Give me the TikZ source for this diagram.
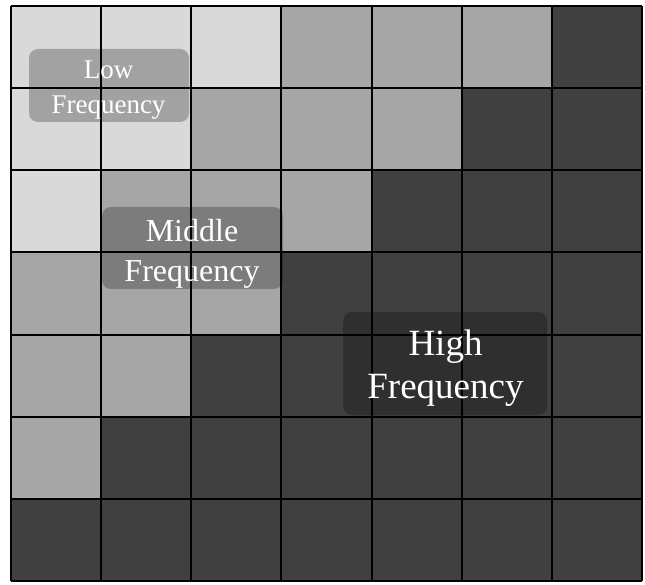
\documentclass[tikz,border=0pt]{standalone}
\usepackage{fontspec}
\setmainfont{Liberation Serif}
\definecolor{cLight}{HTML}{D9D9D9}
\definecolor{cMid}{HTML}{A6A6A6}
\definecolor{cDark}{HTML}{404040}
\begin{document}
\begin{tikzpicture}[x=1pt,y=-1pt,
  gridline/.style={draw=black,line width=2pt},
  lblbox/.style={fill=black,fill opacity=0.25,rounded corners=9pt,inner sep=0pt},
  lbltext/.style={text=white,align=center,inner sep=0pt}]
\useasboundingbox (0,0) rectangle (645,585);
\fill[white] (0,0) rectangle (645,585);
\foreach \i in {0,...,6}{
  \foreach \j in {0,...,6}{
    \pgfmathtruncatemacro\s{\i+\j}
    \ifnum\s<3 \def\cc{cLight}\else\ifnum\s<6 \def\cc{cMid}\else\def\cc{cDark}\fi\fi
    \fill[\cc] ({11+\j*90.14},{6.5+\i*82}) rectangle ++(90.14,82);
  }
}
\foreach \k in {0,...,7}{
  \draw[gridline] ({11+\k*90.14},6.5) -- ({11+\k*90.14},580.5);
  \draw[gridline] (11,{6.5+\k*82}) -- (641.98,{6.5+\k*82});
}
\node[lblbox,minimum width=160pt,minimum height=73pt] (lowbox) at (109,85.5) {};
\node[lbltext,font=\fontsize{27}{35}\selectfont] (low) at (108.5,90.5) {Low\\Frequency};
\node[lblbox,minimum width=181pt,minimum height=82pt] (midbox) at (192.5,248) {};
\node[lbltext,font=\fontsize{32}{40}\selectfont] (mid) at (192,253.5) {Middle\\Frequency};
\node[lblbox,minimum width=204pt,minimum height=103pt] (highbox) at (445,363.5) {};
\node[lbltext,font=\fontsize{37}{43}\selectfont] (high) at (445.5,368.5) {High\\Frequency};
\end{tikzpicture}
\end{document}
